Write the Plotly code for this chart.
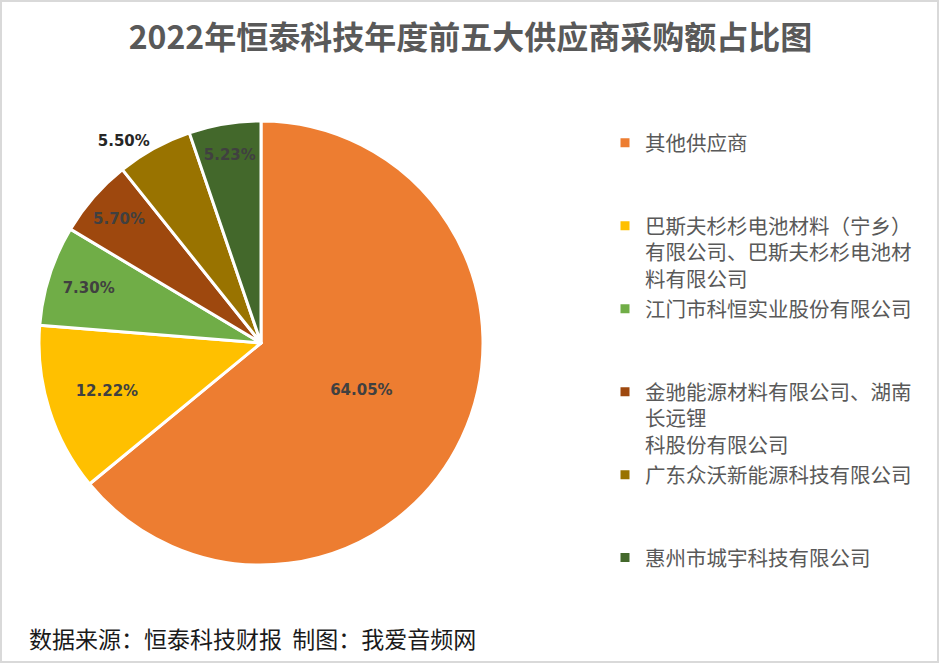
import plotly.graph_objects as go

# ---- data ----
suppliers = [
    "其他供应商",
    "巴斯夫杉杉电池材料（宁乡）有限公司、巴斯夫杉杉电池材料有限公司",
    "江门市科恒实业股份有限公司",
    "金驰能源材料有限公司、湖南长远锂科股份有限公司",
    "广东众沃新能源科技有限公司",
    "惠州市城宇科技有限公司",
]
legend_lines = [
    ["其他供应商"],
    ["巴斯夫杉杉电池材料（宁乡）", "有限公司、巴斯夫杉杉电池材", "料有限公司"],
    ["江门市科恒实业股份有限公司"],
    ["金驰能源材料有限公司、湖南", "长远锂", "科股份有限公司"],
    ["广东众沃新能源科技有限公司"],
    ["惠州市城宇科技有限公司"],
]
shares = [64.05, 12.22, 7.30, 5.70, 5.50, 5.23]  # percent
colors = ["#ED7D31", "#FFC000", "#70AD47", "#9E480E", "#997300", "#43682B"]
label_pos = ["inside", "inside", "inside", "inside", "outside", "inside"]

title_text = "2022年恒泰科技年度前五大供应商采购额占比图"
source_text = "数据来源：恒泰科技财报  制图：我爱音频网"

W, H = 941, 665

# pad every legend entry to three lines so entries are evenly spaced
display_labels = []
for lines in legend_lines:
    padded = lines + ["\u3000"] * (3 - len(lines))
    display_labels.append("<br>".join(padded))

fig = go.Figure()
fig.add_trace(go.Pie(
    labels=display_labels,
    values=shares,
    sort=False,
    direction="clockwise",
    rotation=0,
    marker=dict(colors=colors, line=dict(color="white", width=3)),
    text=[f"{v:.2f}%" for v in shares],
    textinfo="text",
    textposition=label_pos,
    insidetextorientation="horizontal",
    insidetextfont=dict(family="DejaVu Sans", size=15, color="#404040", weight="bold"),
    outsidetextfont=dict(family="DejaVu Sans", size=15, color="#262626", weight="bold"),
    domain=dict(x=[39 / W, 483 / W], y=[(H - 565) / H, (H - 121) / H]),
    hovertext=suppliers,
    hoverinfo="text+percent",
))

fig.update_layout(
    width=W, height=H,
    margin=dict(l=0, r=0, t=0, b=0),
    paper_bgcolor="white",
    plot_bgcolor="white",
    showlegend=True,
    legend=dict(
        x=605 / W, y=(H - 123) / H, xanchor="left", yanchor="top",
        font=dict(family="Noto Sans CJK SC", size=20.5, color="#595959"),
        valign="top",
        bgcolor="rgba(0,0,0,0)",
    ),
    title=dict(
        text=title_text,
        x=0.5, xanchor="center",
        y=(H - 38) / H, yanchor="middle",
        font=dict(family="Noto Sans CJK SC", size=32, color="#595959", weight="bold"),
    ),
    annotations=[dict(
        text=source_text, xref="paper", yref="paper",
        x=27 / W, y=(H - 638) / H, xanchor="left", yanchor="middle",
        showarrow=False,
        font=dict(family="Noto Sans CJK SC", size=23, color="#1a1a1a"),
    )],
    shapes=[dict(
        type="rect", xref="paper", yref="paper",
        x0=1 / W, x1=(W - 3) / W, y0=3 / H, y1=(H - 1) / H,
        line=dict(color="#D9D9D9", width=2),
    )],
)

fig.write_html("out.html")
